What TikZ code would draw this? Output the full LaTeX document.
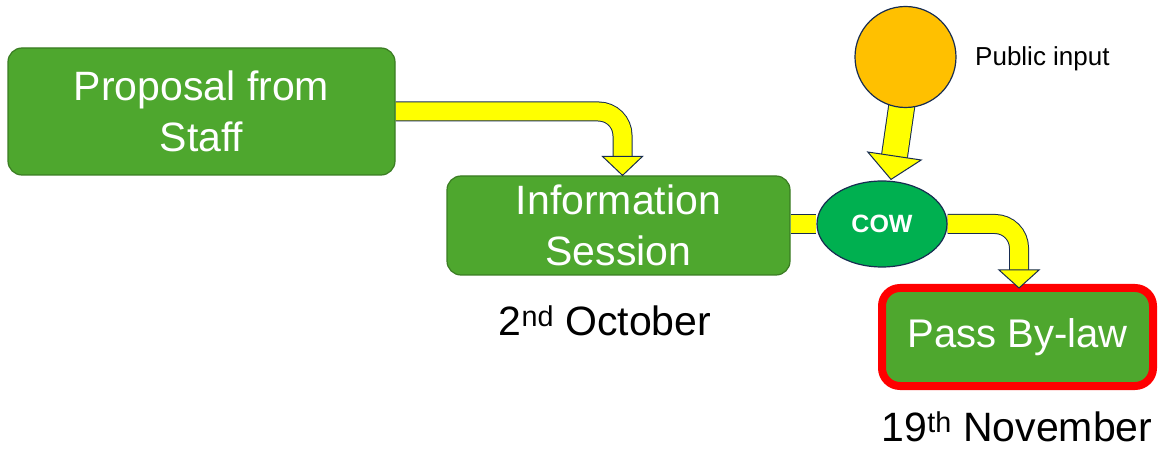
\documentclass[tikz,border=0pt]{standalone}
\usepackage{fontspec}
\setmainfont{Liberation Sans}
\usetikzlibrary{shapes.geometric,calc}
\definecolor{boxgreen}{RGB}{78,167,46}
\definecolor{boxedge}{RGB}{58,124,34}
\definecolor{cowgreen}{RGB}{0,176,80}
\definecolor{outl}{RGB}{23,44,81}
\definecolor{sun}{RGB}{255,192,0}
\definecolor{bandyellow}{RGB}{255,255,0}
\pgfdeclarelayer{bg}
\pgfsetlayers{bg,main}
\begin{document}
\begin{tikzpicture}[x=1pt,y=-1pt,
  greenbox/.style={rectangle,rounded corners=14pt,fill=boxgreen,draw=boxedge,line width=1.2pt,text=white,align=center,inner sep=0pt,font=\fontsize{41}{51}\selectfont},
  bandline/.style={draw=outl,line width=1pt,double=bandyellow,double distance=18pt,rounded corners=24pt},
  headtri/.style={fill=bandyellow,draw=outl,line width=1pt,line join=miter},
  datelabel/.style={font=\fontsize{41}{48}\selectfont,text=black,inner sep=0pt}]
\useasboundingbox (0,0) rectangle (1163,449);

% nodes
\node[greenbox,minimum width=387pt,minimum height=127pt] (prop) at (201.5,111.5) {Proposal from\\Staff};
\node[greenbox,minimum width=343pt,minimum height=99pt] (info) at (618.5,225.5) {Information\\Session};
\node[ellipse,fill=cowgreen,draw=outl,line width=1.2pt,minimum width=130pt,minimum height=86pt,inner sep=0pt,text=white,font=\fontsize{25}{30}\selectfont\bfseries] (cow) at (882,224) {COW};
\node[circle,fill=sun,draw=outl,line width=1.2pt,minimum size=101pt,inner sep=0pt] (pub) at (905.5,57) {};
\node[anchor=west,inner sep=0pt,font=\fontsize{26}{30}\selectfont,text=black] (publabel) at (975,59) {Public input};
\node[greenbox,draw=red,line width=8pt,rounded corners=18pt,minimum width=271pt,minimum height=98pt,font=\fontsize{40}{48}\selectfont] (pass) at (1017.5,337) {Pass By-law};
\node[datelabel] (d1) at (605,321) {2\textsuperscript{nd} October};
\node[datelabel] (d2) at (1017,427) {19\textsuperscript{th} November};

% head geometry
\coordinate (h1b) at ($(info.north)+(4,-19)$);
\coordinate (h1t) at ($(info.north)+(4,0)$);
\coordinate (h3b) at (1019,270);
\coordinate (h3t) at (1019,288);
\coordinate (h4t) at ($(cow.north)+(9,-1)$);
\coordinate (h4b) at (894.5,156);
\coordinate (p4s) at ($(pub.center)+(0,23)$);

% bands
\begin{pgfonlayer}{bg}
\draw[bandline] (prop.east) -| (h1b);
\draw[bandline] (cow.west -| info.east) -- (cow.west);
\draw[bandline] (cow.east) -| (h3b);
\draw[bandline,double distance=25pt] (p4s) -- (h4b);
\end{pgfonlayer}

% heads
\draw[headtri] ($(h1b)+(-20,0)$) -- ($(h1b)+(20,0)$) -- (h1t) -- cycle;
\draw[headtri] ($(h3b)+(-20,0)$) -- ($(h3b)+(20,0)$) -- (h3t) -- cycle;
\draw[headtri] ($(h4b)!27pt!90:(h4t)$) -- ($(h4b)!27pt!-90:(h4t)$) -- (h4t) -- cycle;
\end{tikzpicture}
\end{document}
